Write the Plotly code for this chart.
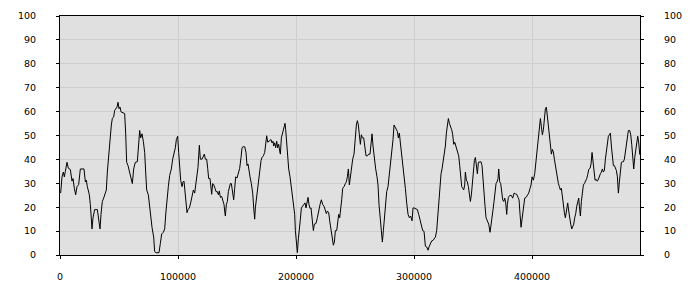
import plotly.graph_objects as go

x_vals = [
    565, 1695, 2825, 3673, 4520, 5933, 7063, 8758, 10170, 11018, 12148, 13278, 14408, 15820, 17233,
    20340, 21470, 22318, 23165, 24860, 25708, 26555, 27120, 27968, 29380, 31640, 32770, 33900, 34748,
    35878, 37008, 38420, 39268, 40115, 40963, 41810, 42658, 43505, 44353, 45483, 46330, 47460, 48308,
    49155, 50003, 50850, 51698, 53393, 54805, 55653, 56500, 57630, 59043, 60455, 61303, 62433, 63845,
    65540, 66388, 67518, 68365, 69495, 70625, 71755, 72603, 73450, 74863, 75710, 76840, 77970, 79383,
    80230, 81360, 83903, 85033, 86163, 87575, 88705, 89835, 90683, 91813, 92943, 94355, 95485, 96615,
    97745, 98593,
    99723, 100570, 101418, 102265, 103395, 104243, 105090, 105655, 106785, 107633, 108480, 109610,
    110740, 111870, 113000, 114130, 114978, 116108, 116955, 118085, 118933, 120345, 121475, 122323,
    123170, 124300, 125148, 125995, 127125, 127973, 128538, 129385, 130233, 131363, 132210, 133340,
    134188, 135035, 135883, 137013, 137860, 138990, 139555, 140120, 140968, 141815, 142663, 143510,
    144358, 145205, 146335, 147183, 148030, 148878, 150008, 151138, 152268, 153398, 154245, 155093,
    156505, 157635, 158483, 159330, 160178, 161025, 162155, 163285, 164133, 164980, 165545, 166675,
    167805, 168653, 169500, 170348, 171195, 172325, 173455, 174585, 175150, 175998, 177410, 178823,
    179670, 180518, 181083, 181930, 182778, 183625, 184473, 185320, 186168, 186733, 187580, 188710,
    189840, 190688, 191253, 191818, 192665, 193795, 194925, 196055, 197185, 198033, 198880, 199445,
    200010, 201140, 201988, 202835, 203683, 204530, 205660, 206790, 207638, 208485, 209333, 210180,
    211028, 211875, 212723, 213570, 214700, 215548, 216960, 218090, 219220, 220350, 221480, 222610,
    223740, 224870, 225718, 226565, 227695, 228543, 229390, 230520, 231650, 232498, 233345, 234475,
    235323, 236170, 237018, 237865, 238713, 239560, 240690, 241820, 242668, 243515, 244363, 245210,
    245775, 246905, 248035, 249165, 250295, 251143, 251990, 252838, 253685, 254533, 255380, 256228,
    257358, 258205, 259335, 260465, 261595, 262725, 263573, 264420, 265268, 266398, 267528, 268658,
    269505, 270353, 271200, 272330, 273178, 274025, 274873, 275720, 276850, 277980, 279110, 280240,
    281370, 282218, 283065, 283913, 284760, 285890, 286738, 287585, 288433, 289280, 290410, 291540,
    292670, 293800, 294930, 296060, 297190, 298320, 299168, 300015,
    301145, 302840, 303970, 305100, 306230, 307360, 308490, 309620, 310750, 311880, 312728, 313858,
    314988, 316118, 317248, 318095, 319225, 320073, 320920, 322050, 322898, 323745, 324875, 325723,
    326570, 327418, 328265, 329113, 329960, 331090, 331938, 332785, 333633, 334480, 335328, 336175,
    337023, 337870, 338718, 339565, 340413, 341260, 342108, 342955, 343520, 344368, 345215, 346063,
    346910, 347758, 348605, 349453, 350300, 351148, 351995, 352843, 353690, 354538, 355385, 356798,
    357645, 358493, 359340, 360188, 361035, 362165, 363295, 364425, 365273, 366120, 366968, 367815,
    368663, 369510, 370358, 371205, 371770, 372618, 373465, 374313, 375160, 376008, 376855, 377703,
    378550, 379115, 379963, 381093, 382505, 383635, 384765, 385895, 387025, 388155, 389003, 389850,
    390698, 391545, 392675, 393805, 394935, 396065, 397195, 398325, 399173, 400020,
    401150, 402280, 403128, 403975, 404823, 405670, 406518, 407083, 407930, 408778, 409625, 410473,
    411320, 412168, 413015, 413863, 414710, 415558, 416405, 417253, 418100, 418948, 419795, 420643,
    421490, 422338, 423185, 424033, 424880, 425728, 426575, 427423, 428270, 428835, 429400, 430248,
    431095, 431943, 432790, 433638, 434485, 435333, 436180, 437028, 437875, 438723, 439570, 440135,
    440983, 441830, 442678, 443525, 444373, 445220, 446350, 447198, 448045, 449175, 450023, 450870,
    451718, 452565, 453413, 454260, 455108, 455955, 456803, 457933, 458780, 459628, 460475, 461323,
    462170, 463018, 463865, 464713, 465560, 466408, 467255, 468103, 468950, 469798, 470645, 471493,
    472340, 473188, 474035, 474883, 475730, 476578, 477425, 478273, 479120, 479968, 480815, 481663,
    482793, 483640, 484488, 485335, 486183, 487030, 487878, 488725, 489573, 490420, 491268, 492115,
]

y_vals = [
    25.9, 32.7, 34.7, 32.7, 35.0, 38.8, 36.3, 35.8, 30.9, 32.0, 27.9, 25.2, 28.6, 29.5, 36.0,
    36.0, 30.6, 31.3, 28.6, 25.2, 21.1, 15.0, 10.9, 15.6, 19.0, 19.0, 14.3, 10.9, 17.0,
    22.4, 23.8, 26.5, 27.2, 34.7, 40.1, 46.3, 51.0, 54.4, 57.1, 57.8, 60.5, 61.2, 61.9,
    63.9, 61.2, 61.9, 59.9, 59.5, 59.2, 51.0, 38.8, 37.4, 34.7, 32.0, 29.9, 36.0, 38.8,
    39.0, 46.9, 52.1, 49.0, 50.7, 47.6, 42.9, 34.7, 27.2, 25.2, 21.1, 15.6, 11.6, 7.5,
    1.4, 0.95, 0.95, 4.8, 8.8, 9.5, 10.9, 18.4, 23.8, 28.6, 33.3, 36.0, 40.1, 42.2,
    44.9, 48.3,
    49.7, 42.9, 35.4, 31.3, 28.6, 30.6, 30.9, 27.9, 22.4, 17.7, 19.0, 19.7,
    21.8, 24.5, 27.2, 25.9, 29.3, 31.3, 36.7, 45.9, 40.1, 40.1, 41.5, 42.2,
    40.1, 40.1, 36.3, 32.0, 32.0, 26.5, 25.4, 29.9, 29.5, 27.9, 26.5, 26.5,
    25.2, 26.8, 24.1, 24.5, 23.1, 21.1, 18.4, 16.3, 21.1, 22.4, 26.5, 28.6,
    29.9, 29.9, 25.2, 23.1, 27.9, 32.7, 32.2, 34.0, 36.3, 40.8, 44.9, 45.3,
    45.3, 42.9, 37.4, 38.1, 34.7, 32.7, 29.9, 25.9, 19.7, 15.0, 19.7, 24.5,
    27.9, 31.3, 34.7, 39.5, 40.8, 41.5, 42.9, 47.6, 49.9, 47.2, 47.6, 48.3,
    46.9, 47.6, 45.6, 46.9, 44.9, 47.6, 44.9, 46.3, 43.5, 42.2, 49.0, 51.0,
    53.1, 55.1, 52.4, 47.6, 41.5, 36.0, 32.7, 27.9, 23.8, 21.1, 17.0, 10.2,
    5.4, 1.0, 6.8, 10.2, 15.0, 19.7, 20.4, 21.1, 21.8, 19.7, 22.4, 24.1,
    21.1, 19.5, 19.7, 15.6, 10.2, 12.9, 13.2, 15.6, 19.0, 21.1, 23.1, 21.1,
    20.4, 19.0, 17.3, 18.4, 17.7, 14.3, 11.6, 7.5, 4.1, 5.4, 10.2, 10.2,
    13.6, 17.0, 15.6, 18.4, 23.1, 27.9, 28.6, 29.9, 30.6, 32.7, 36.0, 29.3,
    32.0, 35.4, 40.1, 42.2, 49.7, 54.4, 56.2, 54.4, 50.3, 46.3, 50.3, 49.0,
    49.0, 44.9, 41.5, 41.5, 42.2, 42.2, 48.3, 50.7, 45.6, 39.5, 36.0, 32.7,
    29.3, 21.1, 15.6, 10.2, 5.4, 10.2, 15.0, 21.1, 26.5, 28.6, 33.3, 38.1,
    43.5, 48.3, 54.4, 53.7, 53.1, 51.7, 49.0, 51.0, 46.9, 43.5, 39.5, 34.7,
    27.9, 21.8, 17.0, 15.6, 16.3, 14.3, 19.7, 19.7,
    19.5, 19.0, 17.0, 15.0, 12.2, 10.2, 9.9, 3.7, 3.4, 2.0, 3.4, 4.8,
    5.9, 6.1, 6.8, 7.5, 10.2, 15.6, 22.4, 29.3, 34.0, 36.0, 39.5, 42.2,
    45.6, 51.0, 54.4, 57.1, 55.1, 53.7, 52.4, 50.3, 46.3, 47.2, 45.6, 44.2,
    43.5, 41.5, 37.4, 31.3, 28.6, 27.9, 27.2, 29.3, 34.7, 31.3, 30.6, 28.6,
    25.2, 22.4, 25.2, 30.6, 35.4, 39.5, 40.8, 37.4, 34.0, 38.8, 39.0, 39.0,
    37.4, 30.6, 25.2, 20.4, 15.6, 14.3, 12.9, 9.5, 13.6, 16.3, 19.0, 22.4,
    26.5, 29.9, 30.6, 32.0, 36.0, 30.6, 29.9, 26.5, 23.1, 22.4, 23.8, 21.8,
    17.0, 21.1, 24.1, 24.9, 24.9, 23.8, 25.9, 25.6, 25.4, 24.1, 23.1, 17.0,
    11.6, 15.0, 21.1, 23.8, 24.1, 24.9, 25.9, 27.9, 29.3, 32.7,
    31.3, 34.0, 38.1, 42.9, 45.6, 49.7, 53.1, 57.1, 53.7, 50.3, 52.4, 55.8,
    61.2, 61.9, 57.8, 53.7, 50.3, 47.6, 42.2, 44.2, 43.1, 40.1, 37.4, 34.0,
    31.3, 29.9, 28.6, 27.2, 27.9, 23.8, 20.4, 17.7, 15.6, 17.0, 19.7, 21.8,
    18.4, 15.0, 12.9, 10.9, 11.6, 12.9, 15.6, 17.3, 20.4, 22.4, 23.8, 20.4,
    16.3, 22.4, 27.9, 29.3, 29.9, 30.6, 32.0, 33.6, 35.8, 36.3, 38.1, 42.9,
    38.1, 34.0, 31.3, 31.7, 30.9, 31.3, 32.7, 34.0, 34.7, 36.0, 34.7, 35.4,
    40.1, 44.2, 46.9, 49.7, 50.3, 51.0, 45.6, 40.1, 37.4, 37.4, 36.3, 35.4,
    32.7, 25.9, 30.6, 35.4, 38.8, 39.0, 39.0, 40.1, 42.9, 46.9, 50.3, 52.1,
    52.1, 50.3, 46.3, 40.1, 36.0, 40.8, 44.2, 47.6, 49.7, 46.9, 42.2, 41.5,
]

x_ticks = [0, 100000, 200000, 300000, 400000]
y_ticks = [0, 10, 20, 30, 40, 50, 60, 70, 80, 90, 100]

FONT = dict(family="DejaVu Sans", size=9.5, color="#000000")

fig = go.Figure()
fig.add_trace(go.Scatter(x=x_vals, y=y_vals, mode="lines",
                         line=dict(color="#000000", width=1), showlegend=False,
                         hoverinfo="skip"))
# invisible copy bound to the right-hand axis so that it is drawn
fig.add_trace(go.Scatter(x=x_vals, y=y_vals, mode="lines", yaxis="y2",
                         line=dict(color="rgba(0,0,0,0)", width=0), showlegend=False,
                         hoverinfo="skip"))

axis_common = dict(showline=True, linecolor="#000000", linewidth=1,
                   ticks="outside", ticklen=3, tickcolor="#000000",
                   showgrid=True, gridcolor="#cecece", gridwidth=1,
                   zeroline=False, tickfont=FONT)

fig.update_layout(
    width=700, height=300,
    margin=dict(l=60, r=60, t=10, b=45),
    paper_bgcolor="#ffffff", plot_bgcolor="#e0e0e0",
    xaxis=dict(range=[0, 491500], tickvals=x_ticks, ticktext=[str(v) for v in x_ticks],
               mirror=True, ticklabelstandoff=10, **axis_common),
    yaxis=dict(range=[0, 100], tickvals=y_ticks, mirror=True, ticklabelstandoff=18,
               **axis_common),
    yaxis2=dict(range=[0, 100], tickvals=y_ticks, overlaying="y", side="right",
                ticklabelstandoff=18, anchor="x",
                showline=True, linecolor="#000000", linewidth=1,
                ticks="outside", ticklen=3, tickcolor="#000000",
                showgrid=False, zeroline=False, tickfont=FONT),
)

fig.write_html("out.html")
